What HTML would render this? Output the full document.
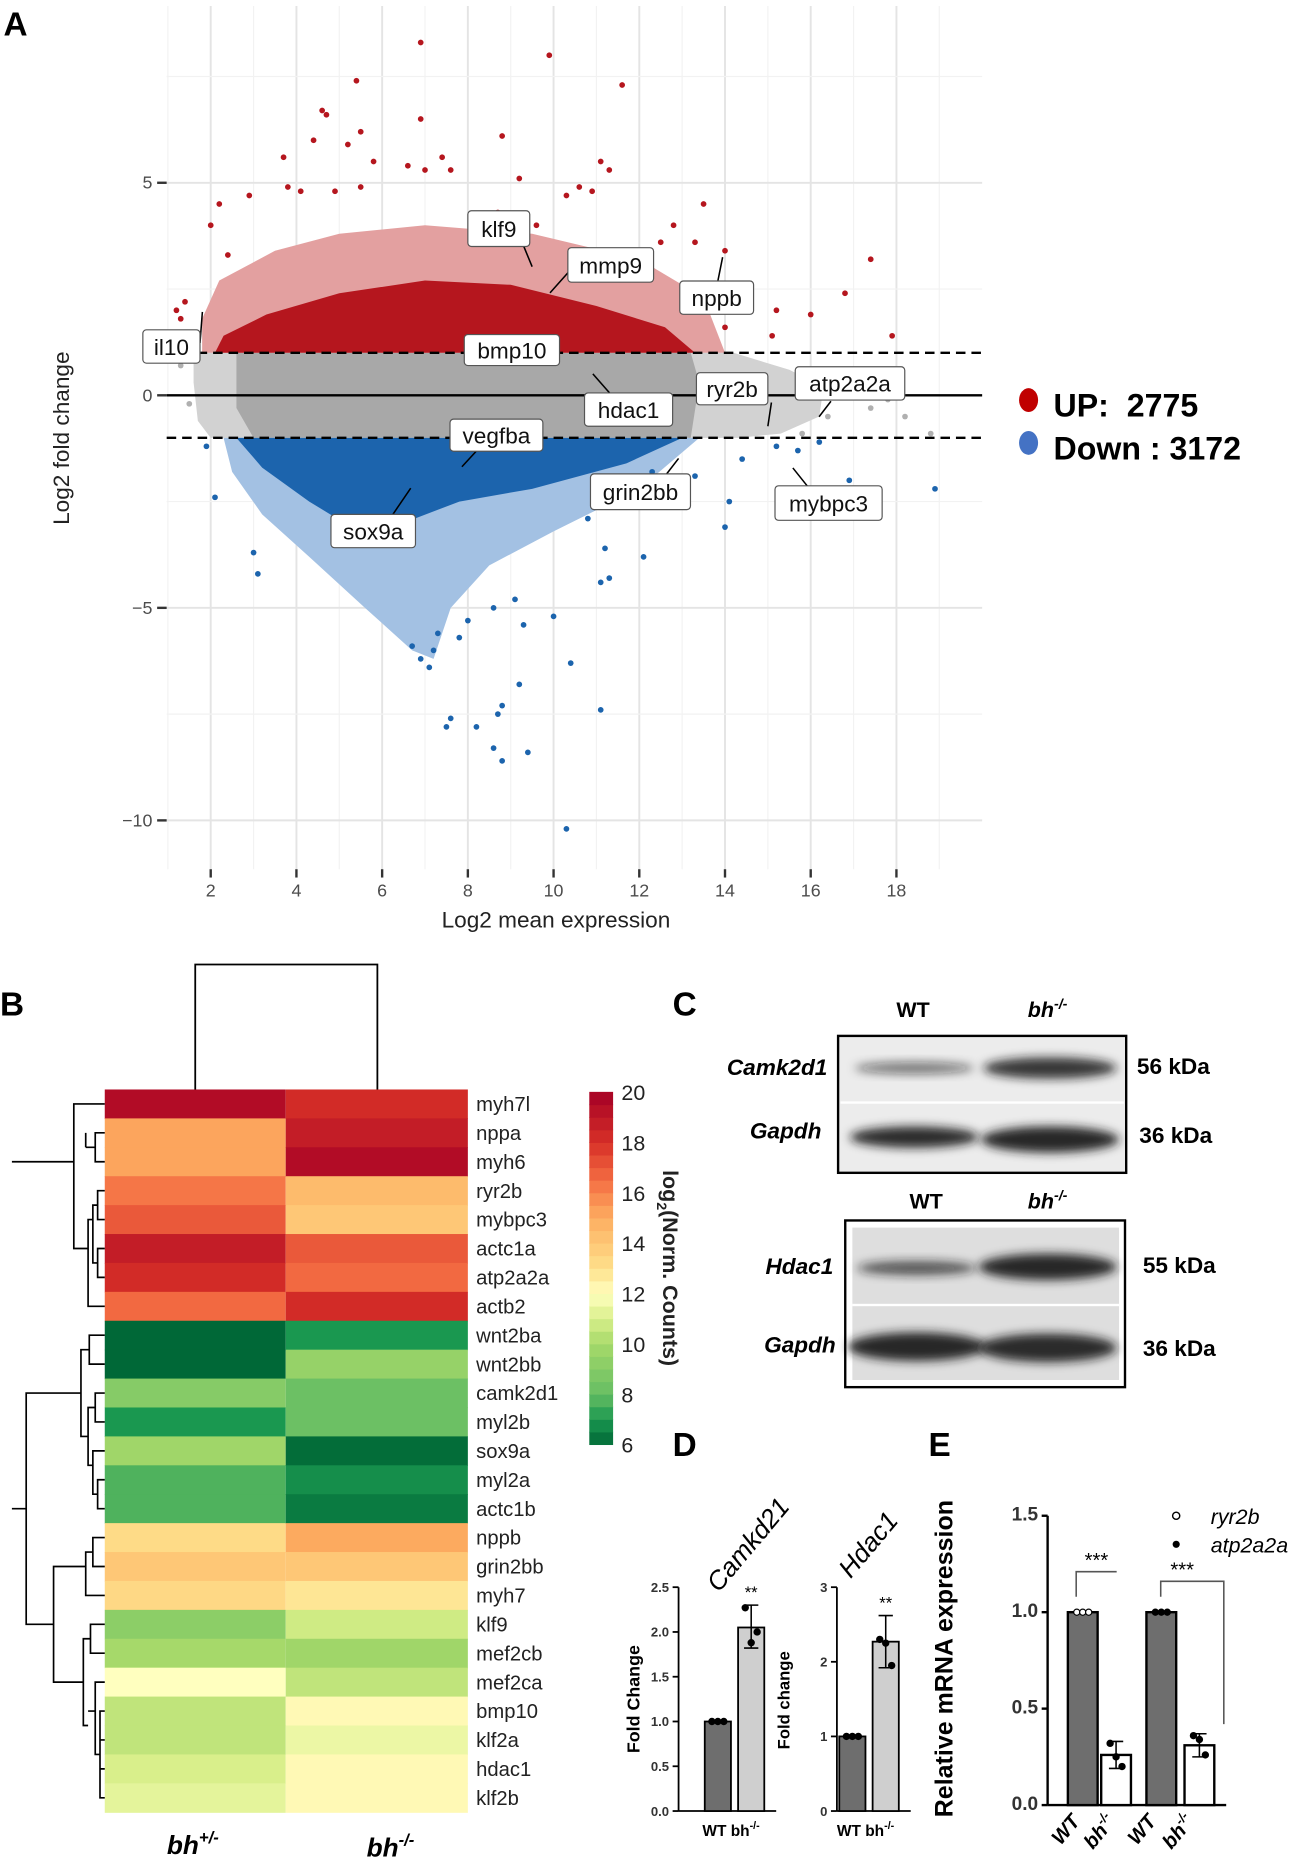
<!DOCTYPE html>
<html><head><meta charset="utf-8"><style>
html,body{margin:0;padding:0;background:#fff;}
svg{display:block;font-family:"Liberation Sans",Arial,sans-serif;}
</style></head><body>
<svg id="fig" width="1300" height="1867" viewBox="0 0 1092 1568" preserveAspectRatio="none" xmlns="http://www.w3.org/2000/svg">
<defs>
<filter id="blur" x="-20%" y="-60%" width="140%" height="220%"><feGaussianBlur stdDeviation="4"/></filter>
</defs>
<rect width="1092" height="1568" fill="#fff"/>
<g id="panelA"></g>
<g id="panelB"></g>
<g id="panelC"></g>
<g id="panelD"></g>
<g id="panelE"></g>
</svg>
<script>
// ---------- Panel A data ----------
const xTicksA = [2,4,6,8,10,12,14,16,18];
const yTicksA = [5,0,-5,-10];
const upX = [6.9,9.9,5.4,11.6,4.6,4.7,5.5,6.9,4.4,5.2,3.7,5.8,6.6,7.4,7.0,7.6,8.8,11.1,11.3,9.2,10.6,10.9,3.8,4.1,4.9,5.5,2.9,2.2,13.5,12.8,13.3,14.0,17.4,16.8,15.2,16.0,17.9,14.0,15.1,1.2,1.4,1.3,2.0,2.4,12.5,11.4,9.6,8.7,10.3];
const upY = [8.3,8.0,7.4,7.3,6.7,6.6,6.2,6.5,6.0,5.9,5.6,5.5,5.4,5.6,5.3,5.3,6.1,5.5,5.3,5.1,4.9,4.8,4.9,4.8,4.8,4.9,4.7,4.5,4.5,4.0,3.6,3.4,3.2,2.4,2.0,1.9,1.4,1.6,1.4,2.0,2.2,1.8,4.0,3.3,3.6,3.3,4.0,4.3,4.7];
const downX = [10.3,8.8,8.6,9.4,8.2,7.6,7.5,8.8,8.7,11.1,6.9,7.1,9.2,10.4,6.7,7.2,7.8,7.3,8.0,9.3,10.0,8.6,9.1,11.1,11.3,12.1,11.2,14.0,14.1,13.3,16.9,18.9,3.0,3.1,2.1,1.9,15.2,15.7,14.4,16.2,10.8,12.6,12.3];
const downY = [-10.2,-8.6,-8.3,-8.4,-7.8,-7.6,-7.8,-7.3,-7.5,-7.4,-6.2,-6.4,-6.8,-6.3,-5.9,-6.0,-5.7,-5.6,-5.3,-5.4,-5.2,-5.0,-4.8,-4.4,-4.3,-3.8,-3.6,-3.1,-2.5,-1.9,-2.0,-2.2,-3.7,-4.2,-2.4,-1.2,-1.2,-1.3,-1.5,-1.1,-2.9,-2.4,-1.8];
const grayX = [18.8,18.2,17.8,17.4,16.8,15.8,16.4,1.3,1.5];
const grayY = [-0.9,-0.5,-0.1,-0.3,0.5,-0.9,-0.5,0.7,-0.2];
const upCount = 2775, downCount = 3172;

// ---------- Panel B data ----------
const genes = ["myh7l","nppa","myh6","ryr2b","mybpc3","actc1a","atp2a2a","actb2","wnt2ba","wnt2bb","camk2d1","myl2b","sox9a","myl2a","actc1b","nppb","grin2bb","myh7","klf9","mef2cb","mef2ca","bmp10","klf2a","hdac1","klf2b"];
const hetVals = [19.5,15.2,15.2,16.3,17,18.8,18.2,16.6,6,6,9,7,9.8,7.7,7.7,13.2,14,13.3,9.2,10,12,10.5,10.5,11,11.3];
const homVals = [18.2,18.8,19.5,14.5,14,17,16.6,18.2,7,9.5,8.2,8.2,6.1,6.8,6.4,15.1,14,12.8,10.8,9.8,10.5,12.2,11.5,12.2,12.2];
const colorbarTicks = [20,18,16,14,12,10,8,6];

// ---------- Panel D/E data ----------
const dGroups = ["WT","bh-/-"];
const camkVals = [1.0, 2.05];
const camkErrHi = [1.0, 2.3];
const camkErrLo = [1.0, 1.82];
const camkPts = [[1,1,1],[2.27,1.88,2.0]];
const hdacVals = [1.0, 2.27];
const hdacErrHi = [1.0, 2.62];
const hdacErrLo = [1.0, 1.92];
const hdacPts = [[1,1,1],[2.3,2.25,1.95]];
const camkTicks = [0,0.5,1,1.5,2,2.5];
const hdacTicks = [0,1,2,3];
const eVals = [1.0, 0.26, 1.0, 0.31];
const eErrHi = [1.0, 0.33, 1.0, 0.37];
const eErrLo = [1.0, 0.19, 1.0, 0.25];
const ePts = [[1,1,1],[0.32,0.25,0.2],[1,1,1],[0.36,0.34,0.26]];
const eTicks = [0,0.5,1.0,1.5];

const NS="http://www.w3.org/2000/svg";
function mk(parent,tag,attrs,text){const e=document.createElementNS(NS,tag);for(const k in attrs)e.setAttribute(k,attrs[k]);if(text!==undefined)e.textContent=text;parent.appendChild(e);return e;}

// ---------- Panel A ----------
(function(){
const g=document.getElementById('panelA');
const L=140,R=825,T=5,B=730;
const sx=v=>105+36*v, sy=v=>332-35.7*v;
let t=mk(g,'text',{x:3,y:30,'font-size':28,'font-weight':'bold'},'A');

for(let v=1;v<=19;v++){const l=mk(g,'line',{x1:sx(v),x2:sx(v),y1:T,y2:B,stroke:v%2?'#f2f2f2':'#e4e4e4','stroke-width':v%2?1:1.6});}
for(let v=-10;v<=7.5;v+=2.5){const major=(v%5===0);const l=mk(g,'line',{x1:L,x2:R,y1:sy(v),y2:sy(v),stroke:major?'#e4e4e4':'#f2f2f2','stroke-width':major?1.6:1});}
const poly=(pts,fill,name,op)=>{const p=mk(g,'polygon',{points:pts.map(q=>sx(q[0])+','+sy(q[1])).join(' '),fill:fill,'fill-opacity':op||1});};
poly([[1.6,1],[14.2,1],[15.5,0.6],[16.3,0.2],[16.2,-0.5],[15.3,-0.9],[14.3,-1],[2.0,-1],[1.7,-0.6],[1.6,0.3]],'#d2d2d2','gray-sparse-cloud');
poly([[2.6,1],[13.2,1],[13.4,0.3],[13.2,-1],[3.0,-1],[2.6,-0.3]],'#a8a8a8','gray-dense-cloud');
poly([[1.8,1],[14,1],[13.5,2.3],[12,3.2],[9.5,3.8],[7,4.0],[5,3.8],[3.5,3.4],[2.2,2.7],[1.8,1.8]],'#e3a0a0','up-sparse-cloud');
poly([[2.1,1],[13.3,1],[12.6,1.6],[11,2.1],[9,2.6],[7,2.7],[5,2.4],[3.3,1.9],[2.3,1.4]],'#b5161e','up-dense-cloud');
poly([[2.3,-1],[13.4,-1],[12.0,-2.2],[10,-3.2],[8.5,-4.0],[7.6,-5.0],[7.2,-6.2],[6.7,-6.0],[5.6,-5.0],[4.3,-3.8],[3.2,-2.8],[2.5,-1.8]],'#a3c1e3','down-sparse-cloud');
poly([[2.6,-1],[13,-1],[11.7,-1.6],[9.5,-2.2],[7.8,-2.5],[6.5,-3.0],[5.6,-3.3],[4.3,-2.5],[3.2,-1.7]],'#1c64ad','down-dense-cloud');
const dots=(xs,ys,fill,name)=>{for(let i=0;i<xs.length;i++){const c=mk(g,'circle',{cx:sx(xs[i]),cy:sy(ys[i]),r:2.4,fill:fill});}};
dots(grayX,grayY,'#b0b0b0','gray-point');
dots(upX,upY,'#b5161e','up-point');
dots(downX,downY,'#1c64ad','down-point');
let l=mk(g,'line',{x1:L,x2:R,y1:sy(0),y2:sy(0),stroke:'#000','stroke-width':2});
for(const v of [1,-1]){l=mk(g,'line',{x1:L,x2:R,y1:sy(v),y2:sy(v),stroke:'#000','stroke-width':2,'stroke-dasharray':'8,5'});}
for(const v of yTicksA){l=mk(g,'line',{x1:132,x2:140,y1:sy(v),y2:sy(v),stroke:'#333','stroke-width':2});
 t=mk(g,'text',{x:128,y:sy(v)+5,'font-size':15,fill:'#4d4d4d','text-anchor':'end'},v<0?'\u2212'+(-v):String(v));}
for(const v of xTicksA){l=mk(g,'line',{x1:sx(v),x2:sx(v),y1:730,y2:737,stroke:'#333','stroke-width':2});
 t=mk(g,'text',{x:sx(v),y:753,'font-size':15,fill:'#4d4d4d','text-anchor':'middle'},String(v));}
t=mk(g,'text',{x:467,y:779,'font-size':19,fill:'#222','text-anchor':'middle'},'Log2 mean expression');
t=mk(g,'text',{x:0,y:0,'font-size':19,fill:'#222','text-anchor':'middle',transform:'translate(58,368) rotate(-90)'},'Log2 fold change');
const labs=[['klf9',393,177,52,30,[440,207,447,224]],['mmp9',477,208,72,29,[478,228,462,246]],['nppb',571,236,62,28,[603,236,607,216]],['il10',120,277,48,28,[168,288,170,262]],['bmp10',390,281,80,26,[430,307,432,300]],['hdac1',491,330,74,28,[512,330,498,314]],['ryr2b',585,313,60,27,[648,338,645,358]],['atp2a2a',668,308,92,28,[698,337,688,350]],['vegfba',378,352,78,27,[400,379,388,392]],['grin2bb',496,398,84,30,[560,398,570,385]],['mybpc3',651,408,90,29,[678,408,666,393]],['sox9a',278,432,71,28,[330,432,345,410]]];
for(const a of labs){const [name,x,y,w,h,ln]=a;
 l=mk(g,'line',{x1:ln[0],y1:ln[1],x2:ln[2],y2:ln[3],stroke:'#000','stroke-width':1.3});
 const r=mk(g,'rect',{x:x,y:y,width:w,height:h,rx:3,fill:'#fff',stroke:'#555','stroke-width':1});
 t=mk(g,'text',{x:x+w/2,y:y+h/2+7,'font-size':19,fill:'#111','text-anchor':'middle'},name);}
let e=mk(g,'ellipse',{cx:864,cy:336,rx:8,ry:10,fill:'#c00000'});
t=mk(g,'text',{x:885,y:350,'font-size':27,'font-weight':'bold'},'UP:\u00a0 '+upCount);
e=mk(g,'ellipse',{cx:864,cy:372,rx:8,ry:10,fill:'#4472c4'});
t=mk(g,'text',{x:885,y:386,'font-size':27,'font-weight':'bold'},'Down : '+downCount);
})();

// ---------- Panel B ----------
(function(){
const g=document.getElementById('panelB');
let t=mk(g,'text',{x:0,y:853,'font-size':28,'font-weight':'bold'},'B');
const stops=[[6,[0,104,55]],[7,[26,152,80]],[8,[102,189,99]],[10,[166,217,106]],[11,[217,239,139]],[12,[255,255,191]],[13,[254,224,139]],[15,[253,174,97]],[16.5,[244,109,67]],[18,[215,48,39]],[20,[165,0,38]]];
const col=v=>{v=Math.max(6,Math.min(20,v));for(let i=0;i<stops.length-1;i++){const a=stops[i],b=stops[i+1];if(v<=b[0]){const f=(v-a[0])/(b[0]-a[0]);const c=a[1].map((x,j)=>Math.round(x+(b[1][j]-x)*f));return 'rgb('+c.join(',')+')';}}return 'rgb(165,0,38)';};
const X0=88,XM=240,X1=393,Y0=915,rh=(1522-915)/genes.length;
for(let i=0;i<genes.length;i++){const y=Y0+i*rh;
 let r=mk(g,'rect',{x:X0,y:y,width:XM-X0,height:rh+0.5,fill:col(hetVals[i])});
 r=mk(g,'rect',{x:XM,y:y,width:X1-XM,height:rh+0.5,fill:col(homVals[i])});
 t=mk(g,'text',{x:400,y:y+rh/2+6,'font-size':17,fill:'#222'},genes[i]);}
let p=mk(g,'path',{d:'M164 915 V810 H317 V915',fill:'none',stroke:'#000','stroke-width':1.5});
const yc=i=>Y0+(i+0.5)*rh;
const d=`M88 ${yc(1)} H80 V${yc(2)} H88 M80 ${(yc(1)+yc(2))/2} H72 M88 ${yc(3)} H82 V${yc(4)} H88 M88 ${yc(5)} H82 V${yc(6)} H88 M82 ${(yc(3)+yc(4))/2} H78 V${(yc(5)+yc(6))/2} H82 M78 ${yc(4)} H74 V${yc(7)} H88 M88 ${yc(0)} H62 V${yc(5)} H74 M72 ${(yc(1)+yc(2))/2} V${yc(1)} M62 ${yc(2)} H10
M88 ${yc(8)} H75 V${yc(9)} H88 M88 ${yc(10)} H80 V${yc(11)} H88 M88 ${yc(13)} H82 V${yc(14)} H88 M88 ${yc(12)} H78 V${yc(13.5)} H82 M80 ${yc(10.5)} H74 V${yc(12.5)} H78 M75 ${yc(8.5)} H68 V${yc(11.5)} H74
M88 ${yc(15)} H78 V${yc(16)} H88 M78 ${yc(15.5)} H72 V${yc(17)} H88 M88 ${yc(18)} H76 V${yc(19)} H88 M88 ${yc(21)} H84 V${yc(24)} H88 M88 ${yc(22)} H84 M88 ${yc(23)} H84 M88 ${yc(20)} H80 V${yc(22.5)} H84 M80 ${yc(21)} H74 M76 ${yc(18.5)} H70 V${yc(21.5)} H74 M72 ${yc(16)} H45 V${yc(20)} H70
M68 ${yc(10)} H22 V${yc(18)} H45 M22 ${yc(14)} H10`;
p=mk(g,'path',{d:d,fill:'none',stroke:'#000','stroke-width':1.4});
const cbY0=915,cbY1=1215,cv=v=>cbY1-(v-6)/14*(cbY1-cbY0-4)-2;
for(let v=6;v<20;v+=0.5){const r=mk(g,'rect',{x:495,y:cv(v+0.5),width:20,height:cv(v)-cv(v+0.5)+0.6,fill:col(v+0.25)});}
for(const v of colorbarTicks){t=mk(g,'text',{x:522,y:cv(v)+7,'font-size':18,fill:'#222'},String(v));}
t=mk(g,'text',{x:0,y:0,'font-size':18,'font-weight':'bold',fill:'#222','text-anchor':'middle',transform:'translate(557,1065) rotate(90)'});
t.innerHTML='log<tspan font-size="12" dy="5">2</tspan><tspan dy="-5">(Norm. Counts)</tspan>';
t=mk(g,'text',{x:162,y:1557,'font-size':22,'font-weight':'bold','font-style':'italic','text-anchor':'middle'});t.innerHTML='bh<tspan font-size="14" dy="-9">+/-</tspan>';
t=mk(g,'text',{x:328,y:1559,'font-size':22,'font-weight':'bold','font-style':'italic','text-anchor':'middle'});t.innerHTML='bh<tspan font-size="14" dy="-9">-/-</tspan>';
})();

// ---------- Panel C ----------
(function(){
const g=document.getElementById('panelC');
let t=mk(g,'text',{x:565,y:853,'font-size':28,'font-weight':'bold'},'C');
const hdr=(x,y,txt,it)=>{const e=mk(g,'text',{x:x,y:y,'font-size':18,'font-weight':'bold','font-style':it?'italic':'normal','text-anchor':'middle'});e.innerHTML=txt;};
hdr(767,854,'WT');hdr(880,854,'bh<tspan font-size="12" dy="-7">-/-</tspan>',1);
hdr(778,1015,'WT');hdr(880,1015,'bh<tspan font-size="12" dy="-7">-/-</tspan>',1);
let r=mk(g,'rect',{x:704,y:870,width:242,height:115,fill:'#ececec',stroke:'#000','stroke-width':2});
r=mk(g,'rect',{x:706,y:925,width:238,height:2,fill:'#fff'});
r=mk(g,'rect',{x:710,y:1025,width:235,height:140,fill:'#fff',stroke:'#000','stroke-width':2});
r=mk(g,'rect',{x:716,y:1031,width:224,height:128,fill:'#dedede'});
r=mk(g,'rect',{x:716,y:1095,width:224,height:2,fill:'#fff'});
const band=(cx,cy,rx,ry,op)=>{const e=mk(g,'ellipse',{cx:cx,cy:cy,rx:rx,ry:ry,fill:'#1a1a1a','fill-opacity':op,filter:'url(#blur)'});};
band(768,897,50,5,0.55);band(882,897,56,9,0.85);
band(768,955,54,9,0.9);band(882,957,58,11,0.95);
band(770,1065,50,6,0.7);band(880,1064,58,11,0.95);
band(770,1131,58,12,0.95);band(880,1132,58,12,0.9);
const lab=(x,y,txt,anchor,it,name)=>{const e=mk(g,'text',{x:x,y:y,'font-size':19,'font-weight':'bold','font-style':it?'italic':'normal','text-anchor':anchor},txt);};
lab(695,903,'Camk2d1','end',1,'protein-label');lab(690,956,'Gapdh','end',1,'protein-label');
lab(700,1070,'Hdac1','end',1,'protein-label');lab(702,1136,'Gapdh','end',1,'protein-label');
lab(955,902,'56 kDa','start',0,'size-label');lab(957,960,'36 kDa','start',0,'size-label');
lab(960,1069,'55 kDa','start',0,'size-label');lab(960,1139,'36 kDa','start',0,'size-label');
})();

// ---------- Panel D & E ----------
function barChart(g,o){
 const sy=v=>o.y0-(v/o.max)*(o.y0-o.yTop);
 let l=mk(g,'line',{x1:o.ax,x2:o.ax,y1:o.yTop,y2:o.y0,stroke:'#000','stroke-width':o.lw});
 l=mk(g,'line',{x1:o.ax,x2:o.axEnd,y1:o.y0,y2:o.y0,stroke:'#000','stroke-width':o.lw});
 for(const v of o.ticks){l=mk(g,'line',{x1:o.ax-5,x2:o.ax,y1:sy(v),y2:sy(v),stroke:'#000','stroke-width':o.lw});
  const t=mk(g,'text',{x:o.ax-8,y:sy(v)+4,'font-size':o.fs,'font-weight':'bold','text-anchor':'end',fill:'#333'},o.fmt(v));}
 for(let i=0;i<o.vals.length;i++){const x=o.bx[i];
  const r=mk(g,'rect',{x:x,y:sy(o.vals[i]),width:o.bw,height:o.y0-sy(o.vals[i]),fill:o.fills[i],stroke:'#000','stroke-width':o.lw});
  const cx=x+o.bw/2;
  l=mk(g,'path',{d:`M${cx-6} ${sy(o.hi[i])} H${cx+6} M${cx} ${sy(o.hi[i])} V${sy(o.lo[i])} M${cx-6} ${sy(o.lo[i])} H${cx+6}`,stroke:'#000','stroke-width':1.3,fill:'none'});
  o.pts[i].forEach((v,j)=>{const c=mk(g,'circle',{cx:cx+(o.pts[i].length>1?(j-1)*5:0),cy:sy(v),r:2.6,fill:o.ptFill[i],stroke:'#000','stroke-width':1});});}
 return sy;
}
(function(){
const g=document.getElementById('panelD');
let t=mk(g,'text',{x:565,y:1223,'font-size':28,'font-weight':'bold'},'D');
let sy=barChart(g,{ax:570,axEnd:652,y0:1521,yTop:1333,max:2.5,ticks:camkTicks,fmt:v=>v.toFixed(1),fs:11,lw:1.5,vals:camkVals,hi:camkErrHi,lo:camkErrLo,pts:camkPts,bx:[592,620],bw:22,fills:['#6e6e6e','#cfcfcf'],ptFill:['#000','#000']});
t=mk(g,'text',{x:631,y:sy(camkErrHi[1])-6,'font-size':14,'text-anchor':'middle'},'**');
sy=barChart(g,{ax:703,axEnd:765,y0:1521,yTop:1333,max:3,ticks:hdacTicks,fmt:v=>String(v),fs:11,lw:1.5,vals:hdacVals,hi:hdacErrHi,lo:hdacErrLo,pts:hdacPts,bx:[705,733],bw:22,fills:['#6e6e6e','#cfcfcf'],ptFill:['#000','#000']});
t=mk(g,'text',{x:744,y:sy(hdacErrHi[1])-6,'font-size':14,'text-anchor':'middle'},'**');
for(const [x,name] of [[590,'x-labels-camk'],[703,'x-labels-hdac']]){t=mk(g,'text',{x:x,y:1542,'font-size':13,'font-weight':'bold'});t.innerHTML=dGroups[0]+' bh<tspan font-size="9" dy="-6">-/-</tspan>';}
t=mk(g,'text',{x:0,y:0,'font-size':15,'font-weight':'bold','text-anchor':'middle',transform:'translate(537,1427) rotate(-90)'},'Fold Change');
t=mk(g,'text',{x:0,y:0,'font-size':14,'font-weight':'bold','text-anchor':'middle',transform:'translate(663,1428) rotate(-90)'},'Fold change');
t=mk(g,'text',{x:0,y:0,'font-size':22,'font-style':'italic','text-anchor':'middle',transform:'translate(634,1302) rotate(-50)'},'Camkd21');
t=mk(g,'text',{x:0,y:0,'font-size':22,'font-style':'italic','text-anchor':'middle',transform:'translate(735,1302) rotate(-50)'},'Hdac1');
})();
(function(){
const g=document.getElementById('panelE');
let t=mk(g,'text',{x:780,y:1223,'font-size':28,'font-weight':'bold'},'E');
const sy=barChart(g,{ax:880,axEnd:1030,y0:1516,yTop:1273,max:1.5,ticks:eTicks,fmt:v=>v.toFixed(1),fs:16,lw:2,vals:eVals,hi:eErrHi,lo:eErrLo,pts:ePts,bx:[897,925,963,995],bw:25,fills:['#6e6e6e','#fff','#6e6e6e','#fff'],ptFill:['#fff','#000','#000','#000']});
let p=mk(g,'path',{d:`M904 ${sy(1.08)} V${sy(1.21)} H938`,stroke:'#555','stroke-width':1.3,fill:'none'});
p=mk(g,'path',{d:`M975 ${sy(1.08)} V${sy(1.16)} H1028 V${sy(0.42)}`,stroke:'#555','stroke-width':1.3,fill:'none'});
t=mk(g,'text',{x:921,y:sy(1.21)-4,'font-size':17,'text-anchor':'middle'},'***');
t=mk(g,'text',{x:993,y:sy(1.16)-4,'font-size':17,'text-anchor':'middle'},'***');
let c=mk(g,'circle',{cx:988,cy:1273,r:3,fill:'#fff',stroke:'#000','stroke-width':1.2});
t=mk(g,'text',{x:1017,y:1280,'font-size':18,'font-style':'italic'},'ryr2b');
c=mk(g,'circle',{cx:988,cy:1297,r:3,fill:'#000'});
t=mk(g,'text',{x:1017,y:1304,'font-size':18,'font-style':'italic'},'atp2a2a');
t=mk(g,'text',{x:0,y:0,'font-size':21,'font-weight':'bold','text-anchor':'middle',transform:'translate(800,1393) rotate(-90)'},'Relative mRNA expression');
const xl=[[908,'WT'],[938,'bh'],[972,'WT'],[1004,'bh']];
xl.forEach((a,i)=>{const e=mk(g,'text',{x:0,y:0,'font-size':17,'font-weight':'bold','font-style':'italic','text-anchor':'end',transform:`translate(${a[0]},1530) rotate(-50)`});e.innerHTML=a[1]+(i%2?'<tspan font-size="11" dy="-7">-/-</tspan>':'');});
})();
</script>
</body></html>
